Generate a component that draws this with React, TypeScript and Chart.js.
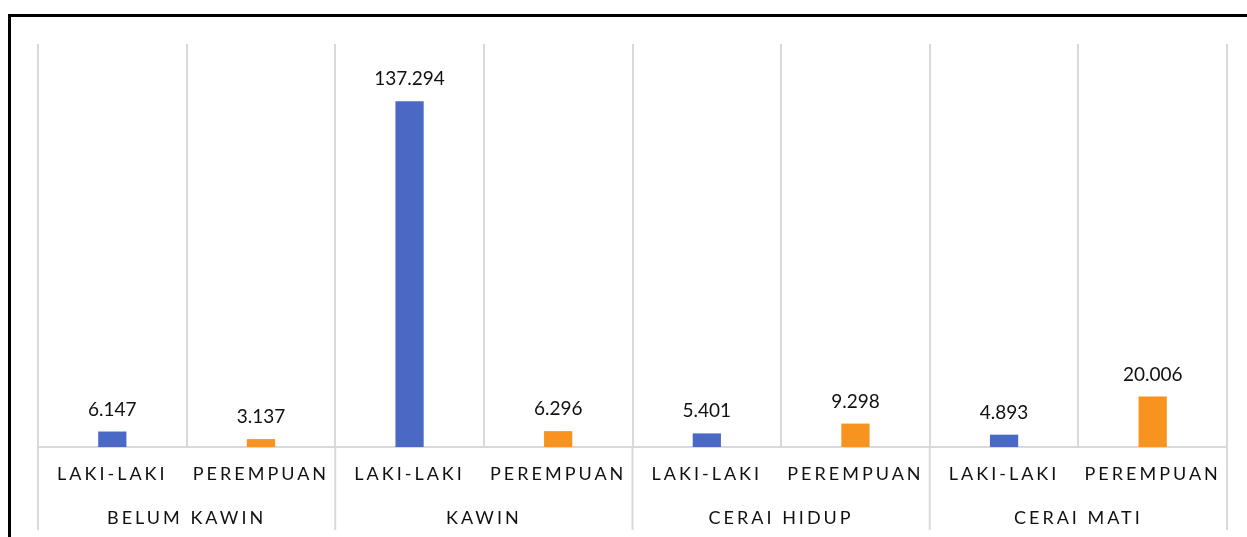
import React, { useEffect, useRef } from 'react';
import { Chart, registerables } from 'chart.js';

Chart.register(...registerables);

const categories = ['LAKI-LAKI', 'PEREMPUAN', 'LAKI-LAKI', 'PEREMPUAN', 'LAKI-LAKI', 'PEREMPUAN', 'LAKI-LAKI', 'PEREMPUAN'];
const groups = ['BELUM KAWIN', 'KAWIN', 'CERAI HIDUP', 'CERAI MATI'];
const values = [6147, 3137, 137294, 6296, 5401, 9298, 4893, 20006];
const barColors = ['#4A69C4', '#F7931E', '#4A69C4', '#F7931E', '#4A69C4', '#F7931E', '#4A69C4', '#F7931E'];
const yMax = 160000;

const GRID = '#d9d9d9';
const FONT = 'Lato';

const fmt = (v: number) => String(v).replace(/\B(?=(\d{3})+(?!\d))/g, '.');

const customPlugin = {
  id: 'customDraw',
  beforeDraw(chart: any) {
    chart.ctx.letterSpacing = '3px';
  },
  afterDatasetsDraw(chart: any) {
    const ctx = chart.ctx;
    ctx.save();
    ctx.letterSpacing = '0px';
    const xs = chart.scales.x;
    const x2 = chart.scales.x2;
    ctx.strokeStyle = GRID;
    ctx.lineWidth = 2;
    for (let i = 0; i <= groups.length; i++) {
      const px = xs.left + (i * xs.width) / groups.length;
      ctx.beginPath();
      ctx.moveTo(px, chart.chartArea.bottom);
      ctx.lineTo(px, x2.bottom - 7);
      ctx.stroke();
    }
    const meta = chart.getDatasetMeta(0);
    ctx.font = `19px ${FONT}`;
    ctx.fillStyle = '#111';
    ctx.textAlign = 'center';
    ctx.textBaseline = 'alphabetic';
    meta.data.forEach((bar: any, i: number) => {
      ctx.fillText(fmt(values[i]), bar.x, bar.y - 16);
    });
    ctx.restore();
  },
};

export default function App() {
  const ref = useRef<HTMLCanvasElement>(null);
  useEffect(() => {
    if (!ref.current) return;
    const chart = new Chart(ref.current, {
      type: 'bar',
      data: {
        labels: categories,
        datasets: [
          {
            data: values,
            backgroundColor: barColors,
            barPercentage: 0.19,
            categoryPercentage: 1,
          },
        ],
      },
      options: {
        animation: false,
        responsive: true,
        maintainAspectRatio: false,
        layout: { padding: { left: 38, right: 20, top: 44, bottom: 0 } },
        plugins: { legend: { display: false }, tooltip: { enabled: false } },
        scales: {
          y: { display: false, min: 0, max: yMax },
          x: {
            weight: 0,
            grid: { color: GRID, lineWidth: 2, drawTicks: false, offset: true },
            border: { color: GRID, width: 2 },
            ticks: { font: { family: FONT, size: 18 }, color: '#111', padding: 16, maxRotation: 0, autoSkip: false },
            afterFit: (s: any) => { s.height = 43; },
          },
          x2: {
            type: 'category',
            labels: groups,
            position: 'bottom',
            weight: 1,
            offset: true,
            grid: { display: false },
            border: { display: false },
            ticks: { font: { family: FONT, size: 18 }, color: '#111', padding: 9, maxRotation: 0, autoSkip: false },
            afterFit: (s: any) => { s.height = 47; },
          },
        },
      },
      plugins: [customPlugin],
    } as any);
    return () => chart.destroy();
  }, []);

  return (
    <div style={{ position: 'fixed', inset: 0, overflow: 'hidden', background: '#fff' }}>
      <div style={{ position: 'absolute', left: 8, top: 14, width: 1400, height: 700, borderLeft: '3px solid #000', borderTop: '3px solid #000' }} />
      <div style={{ position: 'absolute', left: 0, top: 0, width: 1247, height: 537 }}>
        <canvas ref={ref} />
      </div>
    </div>
  );
}
